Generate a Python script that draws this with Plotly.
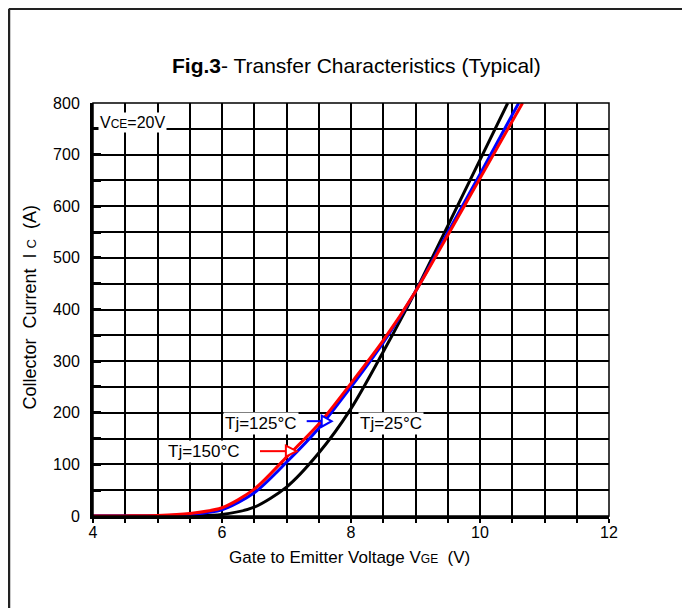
import plotly.graph_objects as go

# ---- data ----
vge_25 = [4.0, 5.0, 5.5, 6.0, 6.5, 7.0, 7.5, 8.0, 8.5, 9.0, 9.5, 10.0, 10.43]
ic_25 = [0, 0, 0.5, 3, 17, 56, 122, 208, 318, 435, 562, 690, 800]

vge_125 = [4.0, 5.0, 5.5, 6.0, 6.5, 7.0, 7.5, 8.0, 8.5, 9.0, 9.5, 10.0, 10.6]
ic_125 = [0, 0.5, 3, 12, 45, 104, 170, 250, 336, 435, 549, 662, 800]

vge_150 = [4.0, 4.5, 5.0, 5.5, 6.0, 6.5, 7.0, 7.5, 8.0, 8.5, 9.0, 9.5, 10.0, 10.66]
ic_150 = [0, 0.2, 1, 5, 16, 52, 114, 178, 257, 340, 435, 544, 654, 800]

x_ticks = [4, 6, 8, 10, 12]
y_ticks = [0, 100, 200, 300, 400, 500, 600, 700, 800]

FONT = "Liberation Sans, Arial, sans-serif"

fig = go.Figure()
for xs, ys, col in [(vge_25, ic_25, "black"), (vge_125, ic_125, "#0000ff"), (vge_150, ic_150, "#ff0000")]:
    fig.add_trace(go.Scatter(x=xs, y=ys, mode="lines", line=dict(color=col, width=3, shape="spline", smoothing=0.8),
                             showlegend=False, hoverinfo="skip"))

fig.update_layout(
    width=682, height=600,
    margin=dict(l=85, r=81, t=95, b=92),
    paper_bgcolor="white", plot_bgcolor="white",
    font=dict(family=FONT, size=16, color="black"),
    showlegend=False,
)
fig.update_xaxes(range=[4, 12], tickvals=x_ticks, ticktext=[str(v) for v in x_ticks],
                 showgrid=True, gridcolor="black", gridwidth=1.5,
                 showline=True, linecolor="black", linewidth=3,
                 ticks="", 
                 minor=dict(dtick=0.5, showgrid=True, gridcolor="black", gridwidth=1.5,
                            ticks="outside", ticklen=4, tickcolor="black", tickwidth=1.5),
                 zeroline=False, fixedrange=True)
fig.update_yaxes(range=[0, 800], tickvals=y_ticks, ticktext=[str(v) for v in y_ticks],
                 showgrid=True, gridcolor="black", gridwidth=1.5,
                 showline=True, linecolor="black", linewidth=3,
                 ticks="inside", ticklen=8, tickcolor="black", tickwidth=3,
                 ticklabelstandoff=7,
                 minor=dict(dtick=50, showgrid=True, gridcolor="black", gridwidth=1.5,
                            ticks="inside", ticklen=8, tickcolor="black", tickwidth=3),
                 zeroline=False, fixedrange=True)

# plot border (top/right thin)
fig.add_shape(type="rect", xref="paper", yref="paper", x0=0, x1=1, y0=0, y1=1,
              line=dict(color="black", width=1.5), layer="above")
# page frame
fig.add_shape(type="line", xref="paper", yref="paper", x0=-0.1628, x1=1.2, y0=1.228, y1=1.228,
              line=dict(color="#222", width=2.5))
fig.add_shape(type="line", xref="paper", yref="paper", x0=-0.1628, x1=-0.1628, y0=-0.3, y1=1.228,
              line=dict(color="#222", width=2.5))

# arrows (open triangle heads)
def arrow(x0, xtip, xbase, y, dy, col):
    fig.add_shape(type="line", x0=x0, x1=xbase, y0=y, y1=y, line=dict(color=col, width=2), layer="above")
    fig.add_shape(type="path", path=f"M {xbase} {y+dy} L {xtip} {y} L {xbase} {y-dy} Z",
                  line=dict(color=col, width=2), fillcolor="white", layer="above")

arrow(7.313, 7.70, 7.546, 183.7, 10.7, "#0000ff")
arrow(6.589, 7.158, 6.99, 125.6, 10.7, "#ff0000")

NB = "\u00a0"
ann = []
ann.append(dict(text="<b>Fig.3</b>- Transfer Characteristics (Typical)", xref="paper", yref="paper",
                x=0.5116, y=1.0897, showarrow=False, font=dict(size=21), xanchor="center", yanchor="middle"))
ann.append(dict(text="Gate to Emitter Voltage V<span style='font-size:12px'>GE</span>" + NB * 2 + "(V)",
                xref="paper", yref="paper", x=0.498, y=-0.1006, showarrow=False, font=dict(size=17),
                xanchor="center", yanchor="middle"))
ann.append(dict(text="Collector" + NB * 2 + "Current" + NB * 2 + "I" + NB + "<span style='font-size:13px'>C</span>" + NB * 2 + "(A)",
                xref="paper", yref="paper", x=-0.122, y=0.505, showarrow=False, font=dict(size=18),
                textangle=-90, xanchor="center", yanchor="middle"))
for txt, x, y in [("Tj=125°C", 6.612, 179.3), ("Tj=150°C", 5.72, 125), ("Tj=25°C", 8.62, 179)]:
    ann.append(dict(text=txt, x=x, y=y, showarrow=False, font=dict(size=17), bgcolor="white",
                    xanchor="center", yanchor="middle", borderpad=1))
ann.append(dict(text="V<span style='font-size:12px'>CE</span>=20V", x=4.61, y=763, showarrow=False,
                font=dict(size=16), bgcolor="white", xanchor="center", yanchor="middle", borderpad=1))
fig.update_layout(annotations=ann)

fig.write_html("out.html")
